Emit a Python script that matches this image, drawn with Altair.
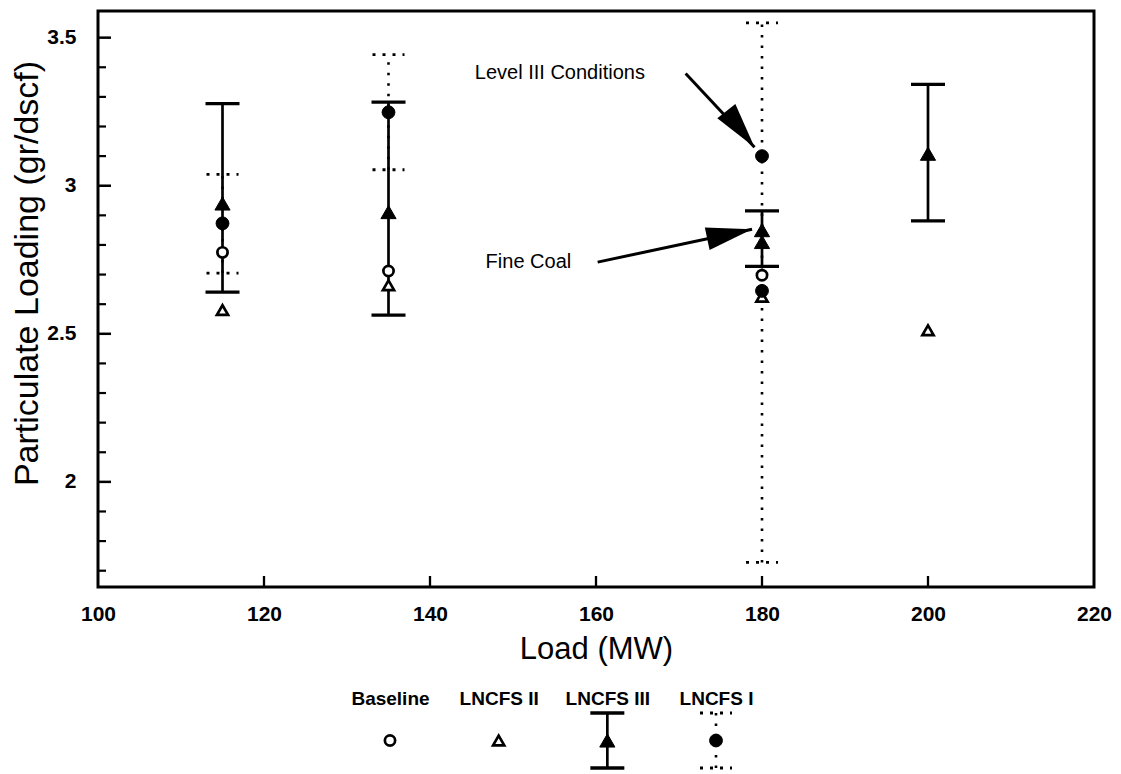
import altair as alt
import pandas as pd

FONT = "Liberation Sans"

# ---------------- data ----------------
loads_baseline = [115, 135, 180]
baseline_vals = [2.775, 2.712, 2.698]

loads_ii = [115, 135, 180, 200]
lncfs_ii_vals = [2.58, 2.664, 2.625, 2.512]

loads_iii = [115, 135, 180, 200]
lncfs_iii_vals = [2.94, 2.911, 2.81, 3.108]
lncfs_iii_lo = [2.641, 2.563, 2.728, 2.881]
lncfs_iii_hi = [3.277, 3.282, 2.915, 3.342]

loads_i = [115, 135, 180]
lncfs_i_vals = [2.873, 3.248, 2.645]
lncfs_i_lo = [2.705, 3.054, 1.728]
lncfs_i_hi = [3.038, 3.443, 3.55]

# highlighted points at 180 MW
level3_load = [180]
level3_vals = [3.10]
finecoal_load = [180]
finecoal_vals = [2.85]

# annotations
ann_text = ["Level III Conditions", "Fine Coal"]
ann_x = [145.4, 146.7]
ann_y = [3.379, 2.742]
arrow_x0 = [170.8, 160.2]
arrow_y0 = [3.379, 2.742]
arrow_x1 = [179.1, 178.8]
arrow_y1 = [3.13, 2.853]
arrow_angle = [142, 78]

# axis ticks
x_tick_labels = [100, 120, 140, 160, 180, 200, 220]
x_inner_ticks = [120, 140, 160, 180, 200]
y_tick_labels = [2, 2.5, 3, 3.5]
y_minor_ticks = [1.7, 1.8, 1.9, 2.1, 2.2, 2.3, 2.4, 2.6, 2.7, 2.8, 2.9,
                 3.1, 3.2, 3.3, 3.4]

legend_names = ["Baseline", "LNCFS II", "LNCFS III", "LNCFS I"]

# ---------------- frames ----------------
df_base = pd.DataFrame({"load": loads_baseline, "val": baseline_vals})
df_ii = pd.DataFrame({"load": loads_ii, "val": lncfs_ii_vals})
df_iii = pd.DataFrame({"load": loads_iii, "val": lncfs_iii_vals,
                       "lo": lncfs_iii_lo, "hi": lncfs_iii_hi})
df_i = pd.DataFrame({"load": loads_i, "val": lncfs_i_vals,
                     "lo": lncfs_i_lo, "hi": lncfs_i_hi})
df_l3 = pd.DataFrame({"load": level3_load, "val": level3_vals})
df_fc = pd.DataFrame({"load": finecoal_load, "val": finecoal_vals})
df_ann = pd.DataFrame({"text": ann_text, "x": ann_x, "y": ann_y})
df_arr = pd.DataFrame({"x0": arrow_x0, "y0": arrow_y0, "x1": arrow_x1,
                       "y1": arrow_y1, "ang": arrow_angle})
df_xt = pd.DataFrame({"v": x_inner_ticks})
df_yt = pd.DataFrame({"v": y_tick_labels})
df_ym = pd.DataFrame({"v": y_minor_ticks})

W, H = 996, 576

xs = alt.Scale(domain=[100, 220], nice=False, zero=False)
ys = alt.Scale(domain=[1.645, 3.59], nice=False, zero=False)

x_axis = alt.Axis(
    title="Load (MW)", values=x_tick_labels, format="d", ticks=False, tickSize=0,
    domain=False, grid=False, labelFont=FONT, labelFontSize=21,
    labelFontWeight="bold", labelColor="black", labelPadding=33,
    labelBaseline="alphabetic", labelFlush=False, labelOverlap=False,
    titleFont=FONT, titleFontSize=31, titleFontWeight="normal",
    titleColor="black", titleBaseline="alphabetic", titleY=71, titleX=W / 2,
    titleAlign="center")

y_axis = alt.Axis(
    title="Particulate Loading (gr/dscf)", values=y_tick_labels, format="~g",
    ticks=False, tickSize=0, domain=False, grid=False, labelFont=FONT,
    labelFontSize=21, labelFontWeight="bold", labelColor="black",
    labelPadding=22, labelFlush=False, labelOverlap=False,
    titleFont=FONT, titleFontSize=34, titleFontWeight="normal",
    titleColor="black", titleAngle=270, titleBaseline="bottom",
    titleX=-54, titleY=262, titleAlign="center")


def X(field="load"):
    return alt.X(f"{field}:Q", scale=xs, axis=x_axis)


def Y(field="val"):
    return alt.Y(f"{field}:Q", scale=ys, axis=y_axis)


BLACK = "black"

# error bars
iii_bar = alt.Chart(df_iii).mark_rule(color=BLACK, strokeWidth=2.7).encode(
    x=X(), y=Y("lo"), y2="hi:Q")
iii_caps = alt.Chart(df_iii).transform_fold(["lo", "hi"], as_=["end", "v"]).mark_rule(
    color=BLACK, strokeWidth=3.3, xOffset=-17, x2Offset=17).encode(
    x=X(), x2="load:Q", y=Y("v"))
i_bar = alt.Chart(df_i).mark_rule(color=BLACK, strokeWidth=2.6, strokeDash=[2.5, 8]).encode(
    x=X(), y=Y("lo"), y2="hi:Q")
i_caps = alt.Chart(df_i).transform_fold(["lo", "hi"], as_=["end", "v"]).mark_rule(
    color=BLACK, strokeWidth=2.8, strokeDash=[3, 7], xOffset=-16, x2Offset=16).encode(
    x=X(), x2="load:Q", y=Y("v"))


# marker styles
def m_base():
    return dict(shape="circle", size=105, fill="white", stroke=BLACK,
                strokeWidth=2.7, opacity=1, fillOpacity=1)


def m_ii():
    return dict(shape="triangle-up", size=125, fill="white", stroke=BLACK,
                strokeWidth=2.7, opacity=1, fillOpacity=1)


def m_iii():
    return dict(shape="triangle-up", size=230, fill=BLACK, stroke=BLACK,
                strokeWidth=1, opacity=1, fillOpacity=1)


def m_i():
    return dict(shape="circle", size=165, fill=BLACK, stroke=BLACK,
                strokeWidth=1, opacity=1, fillOpacity=1)


p_base = alt.Chart(df_base).mark_point(**m_base()).encode(x=X(), y=Y())
p_ii = alt.Chart(df_ii).mark_point(**m_ii()).encode(x=X(), y=Y())
p_iii = alt.Chart(df_iii).mark_point(**m_iii()).encode(x=X(), y=Y())
p_i = alt.Chart(df_i).mark_point(**m_i()).encode(x=X(), y=Y())
p_l3 = alt.Chart(df_l3).mark_point(**m_i()).encode(x=X(), y=Y())
p_fc = alt.Chart(df_fc).mark_point(**m_iii()).encode(x=X(), y=Y())

# annotations
ann = alt.Chart(df_ann).mark_text(align="left", baseline="middle", font=FONT,
                                  fontSize=20, color=BLACK).encode(
    x=X("x"), y=Y("y"), text="text:N")
shaft = alt.Chart(df_arr).mark_rule(color=BLACK, strokeWidth=3).encode(
    x=X("x0"), y=Y("y0"), x2="x1:Q", y2="y1:Q")
head = alt.Chart(df_arr).mark_point(shape="M0,0L-0.5,2L0.5,2Z", filled=True,
                                    size=2100, color=BLACK, opacity=1).encode(
    x=X("x1"), y=Y("y1"), angle=alt.Angle("ang:Q", scale=None))

# inner ticks
yt_major = alt.Chart(df_yt).mark_rule(color=BLACK, strokeWidth=2.5).encode(
    y=Y("v"), x=alt.value(0), x2=alt.value(13))
yt_minor = alt.Chart(df_ym).mark_rule(color=BLACK, strokeWidth=2.2).encode(
    y=Y("v"), x=alt.value(0), x2=alt.value(8))
xt_major = alt.Chart(df_xt).mark_rule(color=BLACK, strokeWidth=2.3).encode(
    x=X("v"), y=alt.value(H), y2=alt.value(H - 11))

top = alt.layer(
    yt_major, yt_minor, xt_major,
    iii_bar, iii_caps, i_bar, i_caps,
    p_base, p_ii, p_iii, p_i, p_l3, p_fc,
    shaft, head, ann,
).properties(width=W, height=H,
             view=alt.ViewBackground(stroke=BLACK, strokeWidth=3, fill="white"))

# ---------------- legend panel ----------------
df_leg = pd.DataFrame({"name": legend_names, "v": [0, 0, 0, 0],
                       "lo": [None, None, -1, -1], "hi": [None, None, 1, 1]})

lx_scale = alt.Scale(type="point", domain=legend_names, range=[292, 618], padding=0)
lx_axis = alt.Axis(orient="top", title=None, labelAngle=0, ticks=False,
                   tickSize=0, domain=False, grid=False, labelFont=FONT,
                   labelFontSize=19, labelFontWeight="bold", labelColor="black",
                   labelPadding=9, labelBaseline="alphabetic")
ly_scale = alt.Scale(domain=[-1, 1], nice=False, zero=False)


def LX():
    return alt.X("name:N", scale=lx_scale, axis=lx_axis, sort=legend_names)


def LY(field="v"):
    return alt.Y(f"{field}:Q", scale=ly_scale, axis=None)


leg_base = alt.Chart(df_leg)
l_iii_bar = leg_base.transform_filter(alt.datum.name == "LNCFS III").mark_rule(
    color=BLACK, strokeWidth=2.7).encode(x=LX(), y=LY("lo"), y2="hi:Q")
l_iii_caps = leg_base.transform_filter(alt.datum.name == "LNCFS III").transform_fold(
    ["lo", "hi"], as_=["end", "e"]).mark_rule(
    color=BLACK, strokeWidth=3.3, xOffset=-17, x2Offset=17).encode(
    x=LX(), x2=alt.X2("name:N"), y=LY("e"))
l_i_bar = leg_base.transform_filter(alt.datum.name == "LNCFS I").mark_rule(
    color=BLACK, strokeWidth=2.6, strokeDash=[2.5, 8]).encode(x=LX(), y=LY("lo"), y2="hi:Q")
l_i_caps = leg_base.transform_filter(alt.datum.name == "LNCFS I").transform_fold(
    ["lo", "hi"], as_=["end", "e"]).mark_rule(
    color=BLACK, strokeWidth=2.8, strokeDash=[3, 7], xOffset=-16, x2Offset=16).encode(
    x=LX(), x2=alt.X2("name:N"), y=LY("e"))
l_p_base = leg_base.transform_filter(alt.datum.name == "Baseline").mark_point(
    **m_base()).encode(x=LX(), y=LY())
l_p_ii = leg_base.transform_filter(alt.datum.name == "LNCFS II").mark_point(
    **m_ii()).encode(x=LX(), y=LY())
l_p_iii = leg_base.transform_filter(alt.datum.name == "LNCFS III").mark_point(
    **m_iii()).encode(x=LX(), y=LY())
l_p_i = leg_base.transform_filter(alt.datum.name == "LNCFS I").mark_point(
    **m_i()).encode(x=LX(), y=LY())

legend = alt.layer(
    l_iii_bar, l_iii_caps, l_i_bar, l_i_caps, l_p_base, l_p_ii, l_p_iii, l_p_i
).properties(width=W, height=55,
             view=alt.ViewBackground(stroke="transparent", strokeWidth=0))

chart = alt.vconcat(top, legend, spacing=23).properties(
    padding={"left": 8, "top": 9, "right": 5, "bottom": 2},
    background="white",
).configure(font=FONT)

chart.save("out.html", embed_options={"renderer": "svg", "actions": False})
